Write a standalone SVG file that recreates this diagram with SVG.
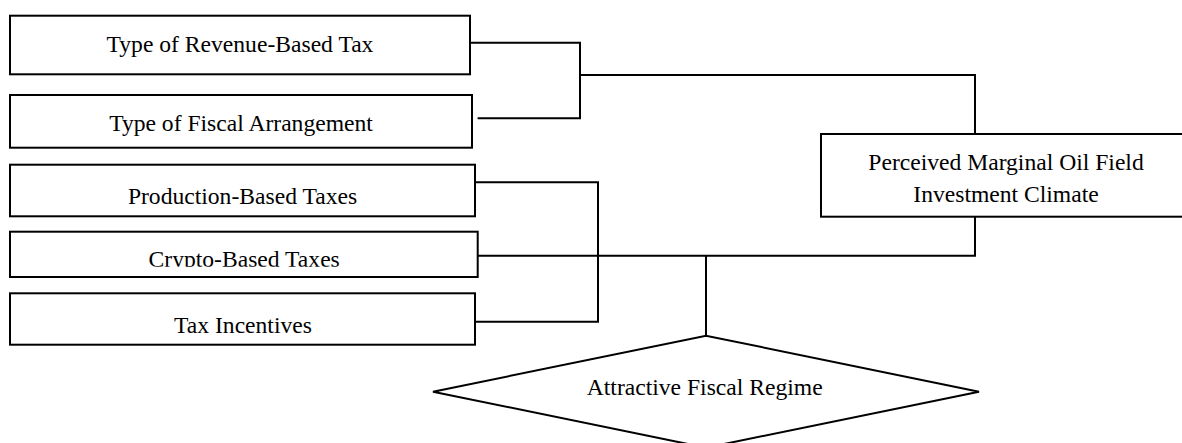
<svg xmlns="http://www.w3.org/2000/svg" width="1182" height="443" viewBox="0 0 1182 443">
<style>
.box{fill:#fff;stroke:#000;stroke-width:2}
.lbl{font-family:"Liberation Serif","Times New Roman",serif;font-size:23.6px;fill:#000;text-anchor:middle}
.wire{fill:none;stroke:#000;stroke-width:2}
</style>
<defs>
<clipPath id="clipCrypto"><rect x="0" y="230" width="500" height="36.8"/></clipPath>
</defs>
<rect width="1182" height="443" fill="#fff"/>
<g id="connectors">
<path class="wire" d="M470,42.7 H580 V118.3 H477.6"/>
<path class="wire" d="M580,75 H975 V134"/>
<path class="wire" d="M475,182.3 H598 V321.7 H475"/>
<path class="wire" d="M975,216.7 V255.7 H474"/>
<path class="wire" d="M706,255.7 V335.7"/>
</g>
<g id="n1"><rect class="box" x="10" y="15.7" width="460" height="58.6"/><text class="lbl" x="240" y="52.3">Type of Revenue-Based Tax</text></g>
<g id="n2"><rect class="box" x="10" y="95" width="462" height="52.7"/><text class="lbl" x="241" y="131">Type of Fiscal Arrangement</text></g>
<g id="n3"><rect class="box" x="10" y="164.7" width="465" height="51.6"/><text class="lbl" x="242.5" y="204.3">Production-Based Taxes</text></g>
<g id="n4"><rect class="box" x="10" y="231.7" width="467.7" height="45.3"/><text class="lbl" x="244.2" y="266.6" clip-path="url(#clipCrypto)">Crypto-Based Taxes</text></g>
<g id="n5"><rect class="box" x="10" y="293.3" width="465" height="51.4"/><text class="lbl" x="243" y="332.7">Tax Incentives</text></g>
<g id="n6"><rect class="box" x="821" y="134" width="369" height="82.7"/><text class="lbl" x="1006" y="170">Perceived Marginal Oil Field</text><text class="lbl" x="1006" y="202.3">Investment Climate</text></g>
<g id="n7"><polygon class="box" points="433,391.7 706,335.7 979,391.7 706,447.7"/><text class="lbl" x="704.7" y="395">Attractive Fiscal Regime</text></g>
</svg>
